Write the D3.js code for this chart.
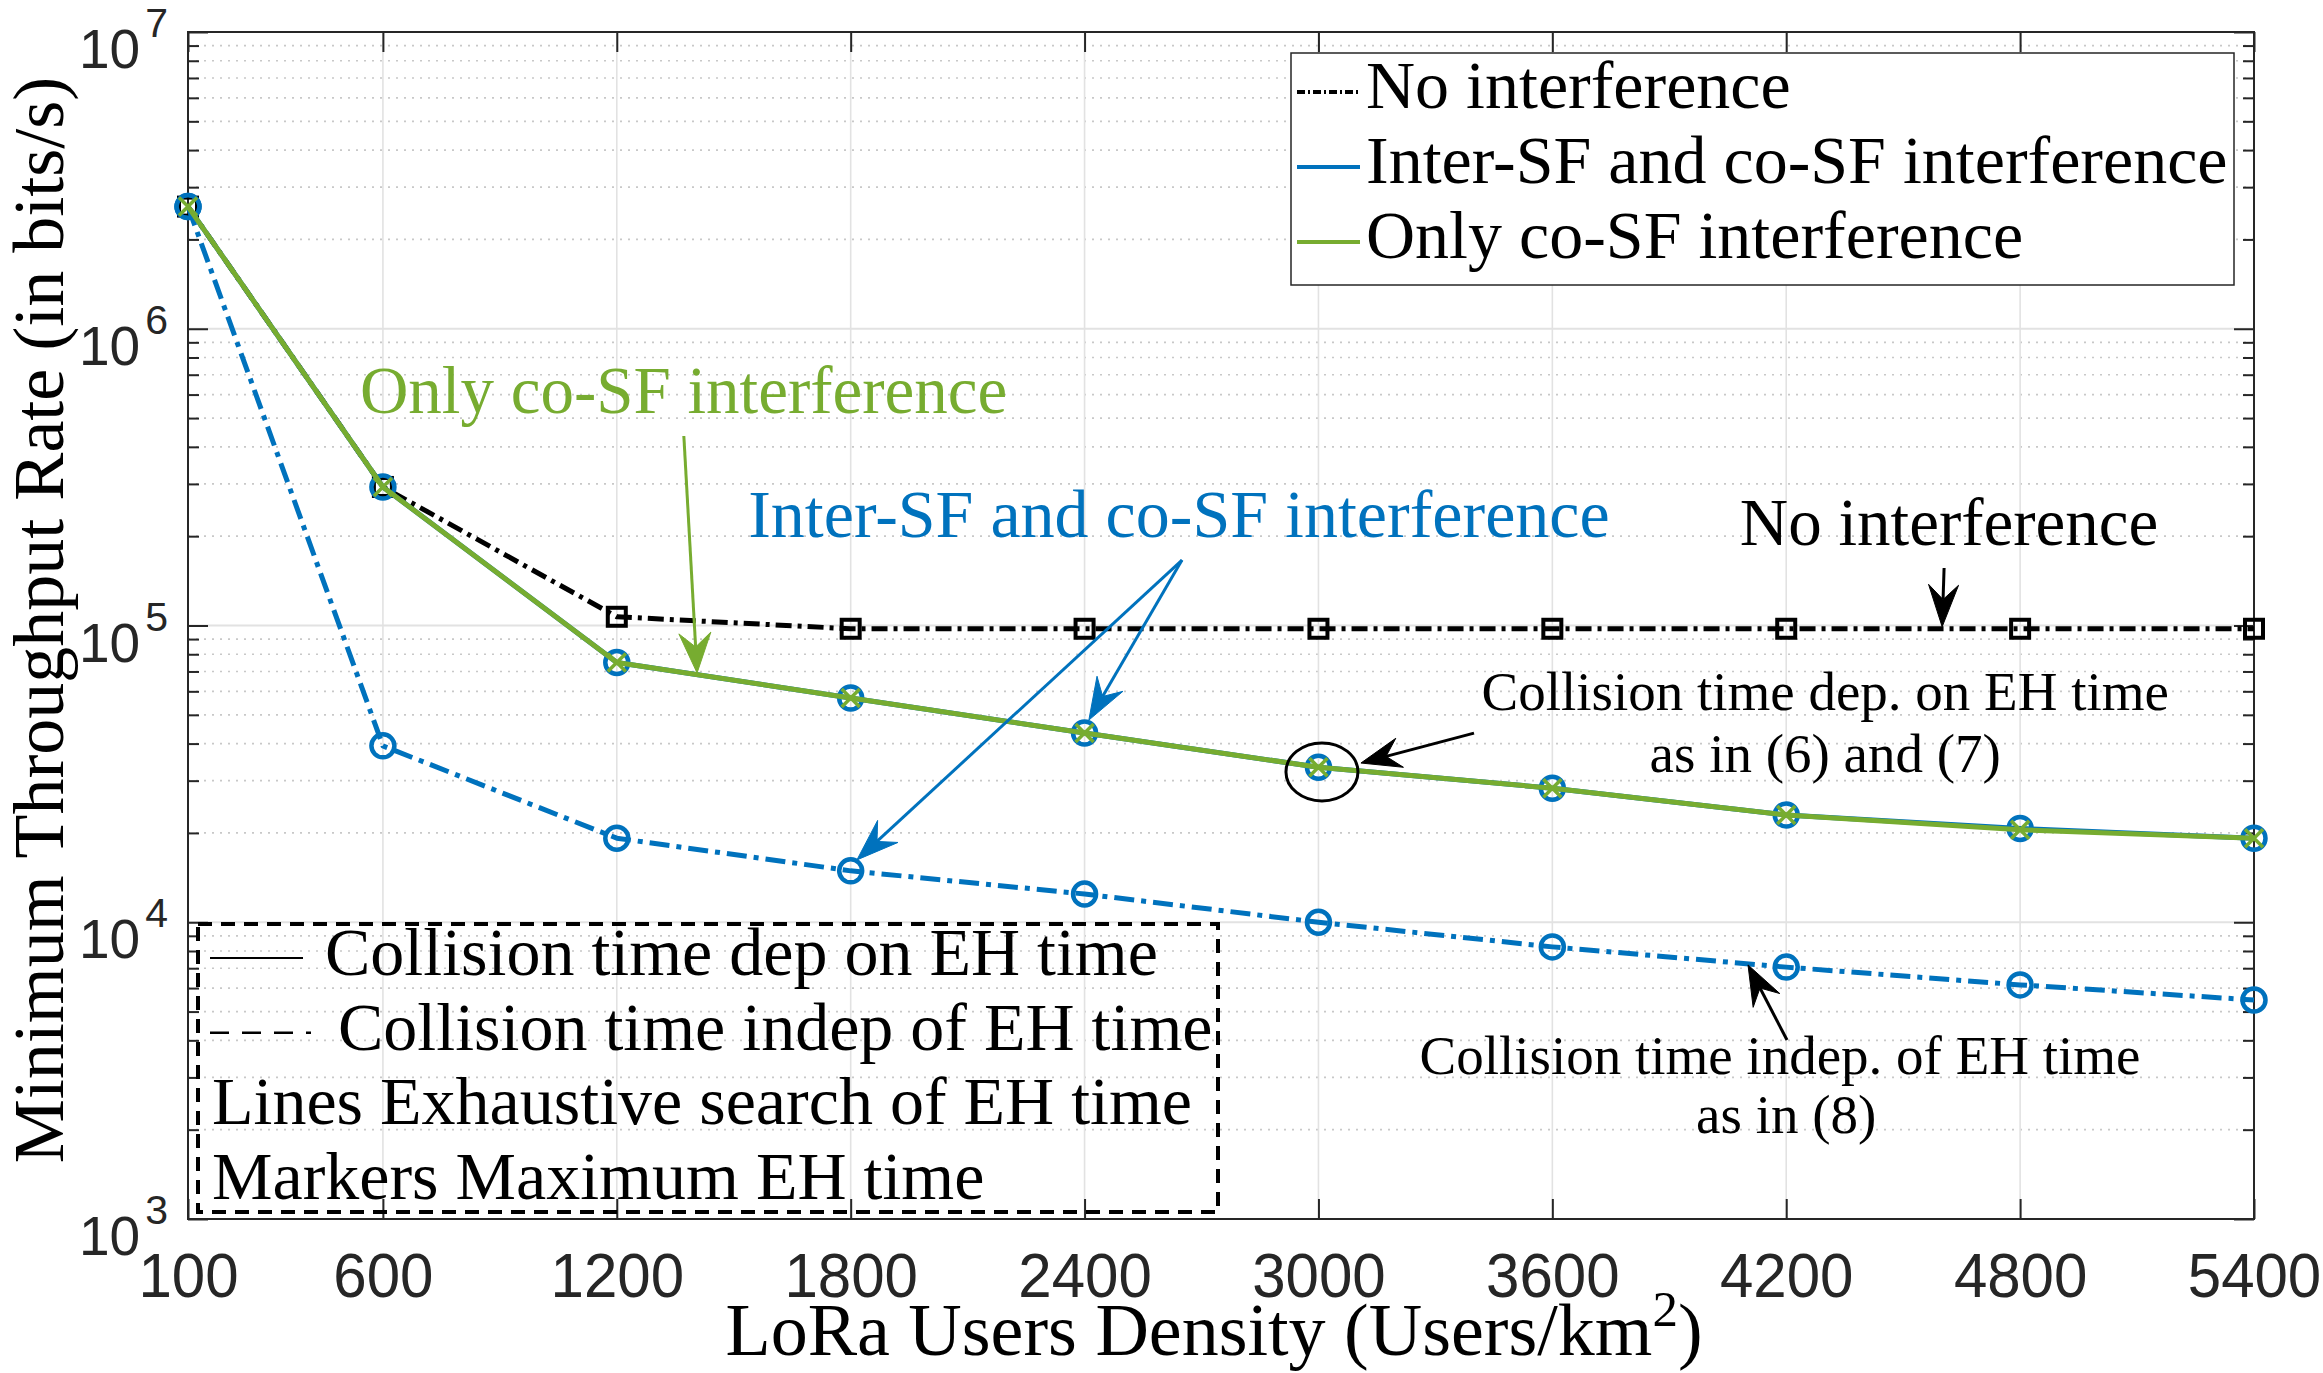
<!DOCTYPE html>
<html>
<head>
<meta charset="utf-8">
<script src="https://cdn.jsdelivr.net/npm/d3@7"></script>
<style>
  html, body { margin: 0; padding: 0; background: #fff; }
  svg { display: block; }
</style>
</head>
<body>
<svg id="chart" width="2323" height="1373"></svg>
<script>
// ---------------- DATA ----------------
const density = [100, 600, 1200, 1800, 2400, 3000, 3600, 4200, 4800, 5400];
const xTickValues = [100, 600, 1200, 1800, 2400, 3000, 3600, 4200, 4800, 5400];
const yDecades = [1e3, 1e4, 1e5, 1e6, 1e7];
const yDecadeExponents = ["3", "4", "5", "6", "7"];

// No interference (dash-dot black, squares)
const noInterference = [2.58e6, 2.93e5, 1.07e5, 9.75e4, 9.75e4, 9.75e4, 9.75e4, 9.75e4, 9.75e4, 9.75e4];
// Inter-SF and co-SF interference, collision time dep. on EH time (solid blue, circles)
const interDep = [2.58e6, 2.93e5, 7.5e4, 5.7e4, 4.34e4, 3.33e4, 2.83e4, 2.30e4, 2.07e4, 1.92e4];
// Only co-SF interference, collision time dep. on EH time (solid green, x)
const coSFDep = [2.58e6, 2.93e5, 7.5e4, 5.7e4, 4.34e4, 3.33e4, 2.83e4, 2.30e4, 2.05e4, 1.92e4];
// Inter-SF and co-SF interference, collision time indep. of EH time (dash-dot blue, circles)
const interIndep = [2.58e6, 3.93e4, 1.92e4, 1.49e4, 1.245e4, 1.0e4, 8.26e3, 7.06e3, 6.15e3, 5.47e3];

const legendMainLabels = ["No interference", "Inter-SF and co-SF interference", "Only co-SF interference"];
const legendStyleLabels = ["Collision time dep on EH time", "Collision time indep of EH time",
                           "Lines Exhaustive search of EH time", "Markers Maximum EH time"];

// ---------------- LAYOUT ----------------
const W = 2323, H = 1373;
const L = 188, R = 2254, T = 32, B = 1219;
const blue = "#0072BD", green = "#77AC30", axisCol = "#262626";
const serif = "'Liberation Serif', 'Times New Roman', serif";
const sans = "'Liberation Sans', Arial, Helvetica, sans-serif";

const svg = d3.select("#chart");
svg.append("rect").attr("width", W).attr("height", H).attr("fill", "#fff");

const x = d3.scaleLinear().domain([100, 5400]).range([L, R]);
const y = d3.scaleLog().domain([1e3, 1e7]).range([B, T]);

const minorVals = [];
for (let e = 3; e < 7; e++) for (let k = 2; k <= 9; k++) minorVals.push(k * Math.pow(10, e));

// ---------------- GRID ----------------
const grid = svg.append("g");
grid.selectAll(".ymin").data(minorVals).enter().append("line")
  .attr("x1", L).attr("x2", R).attr("y1", d => y(d)).attr("y2", d => y(d))
  .attr("stroke", "#c8c8c8").attr("stroke-width", 1.6).attr("stroke-dasharray", "2,6");
grid.selectAll(".ymaj").data(yDecades.slice(1, 4)).enter().append("line")
  .attr("x1", L).attr("x2", R).attr("y1", d => y(d)).attr("y2", d => y(d))
  .attr("stroke", "#e2e2e2").attr("stroke-width", 2);
grid.selectAll(".xg").data(xTickValues.slice(1, -1)).enter().append("line")
  .attr("x1", d => x(d)).attr("x2", d => x(d)).attr("y1", T).attr("y2", B)
  .attr("stroke", "#e2e2e2").attr("stroke-width", 1.6);

// ---------------- AXES ----------------
function styleAxis(g) {
  g.select(".domain").remove();
  g.selectAll(".tick line").attr("stroke", axisCol).attr("stroke-width", 2);
}
const xAxisG = svg.append("g").attr("transform", `translate(0,${B})`)
  .call(d3.axisBottom(x).tickValues(xTickValues).tickSizeInner(-20).tickSizeOuter(0).tickFormat(""))
  .call(styleAxis);
// x tick labels (slightly tall Helvetica look)
xAxisG.selectAll(".tick").append("text")
  .attr("transform", "translate(0,78) scale(1,1.06)")
  .attr("text-anchor", "middle").attr("font-family", sans).attr("font-size", 60).attr("fill", axisCol)
  .text(d => d3.format("d")(d));

svg.append("g").attr("transform", `translate(0,${T})`)
  .call(d3.axisTop(x).tickValues(xTickValues).tickSizeInner(-20).tickSizeOuter(0).tickFormat(""))
  .call(styleAxis);
svg.append("g").attr("transform", `translate(${L},0)`)
  .call(d3.axisLeft(y).tickValues(yDecades).tickSizeInner(-20).tickSizeOuter(0).tickFormat(""))
  .call(styleAxis);
svg.append("g").attr("transform", `translate(${L},0)`)
  .call(d3.axisLeft(y).tickValues(minorVals).tickSizeInner(-11).tickSizeOuter(0).tickFormat(""))
  .call(styleAxis);
svg.append("g").attr("transform", `translate(${R},0)`)
  .call(d3.axisRight(y).tickValues(yDecades).tickSizeInner(-20).tickSizeOuter(0).tickFormat(""))
  .call(styleAxis);
svg.append("g").attr("transform", `translate(${R},0)`)
  .call(d3.axisRight(y).tickValues(minorVals).tickSizeInner(-11).tickSizeOuter(0).tickFormat(""))
  .call(styleAxis);

// y tick labels 10^n
const ylab = svg.append("g");
yDecades.forEach((d, i) => {
  const t = ylab.append("text").attr("x", 168).attr("y", y(d) + 36)
    .attr("text-anchor", "end").attr("font-family", sans).attr("font-size", 55).attr("fill", axisCol);
  t.append("tspan").text("10");
  t.append("tspan").attr("dx", 5).attr("dy", -31).attr("font-size", 41).text(yDecadeExponents[i]);
});

// frame
svg.append("rect").attr("x", L).attr("y", T).attr("width", R - L).attr("height", B - T)
  .attr("fill", "none").attr("stroke", axisCol).attr("stroke-width", 2);

// axis titles
const xl = svg.append("text").attr("x", 1214).attr("y", 1355).attr("text-anchor", "middle")
  .attr("font-family", serif).attr("font-size", 74).attr("fill", "#000");
xl.append("tspan").text("LoRa Users Density (Users/km");
xl.append("tspan").attr("dy", -29).attr("font-size", 51).text("2");
xl.append("tspan").attr("dy", 29).text(")");

svg.append("text").attr("transform", "translate(63,620) rotate(-90)").attr("text-anchor", "middle")
  .attr("font-family", serif).attr("font-size", 72).attr("fill", "#000")
  .text("Minimum Throughput Rate (in bits/s)");

// ---------------- SERIES ----------------
const plot = svg.append("g");
const line = d3.line().x((d, i) => x(density[i])).y(d => y(d));

function drawSeries(vals, color, width, dash) {
  plot.append("path").attr("d", line(vals)).attr("fill", "none").attr("stroke", color)
    .attr("stroke-width", width).attr("stroke-dasharray", dash || null)
    .attr("stroke-linejoin", "round");
}
function circles(vals, color) {
  plot.append("g").selectAll("circle").data(vals).enter().append("circle")
    .attr("cx", (d, i) => x(density[i])).attr("cy", d => y(d)).attr("r", 11.5)
    .attr("fill", "none").attr("stroke", color).attr("stroke-width", 4.5);
}
function squares(vals, color) {
  const s = 18;
  plot.append("g").selectAll("rect").data(vals).enter().append("rect")
    .attr("x", (d, i) => x(density[i]) - s / 2).attr("y", d => y(d) - s / 2)
    .attr("width", s).attr("height", s)
    .attr("fill", "none").attr("stroke", color).attr("stroke-width", 4);
}
function crosses(vals, color) {
  const h = 9;
  plot.append("g").selectAll("path").data(vals).enter().append("path")
    .attr("d", (d, i) => {
      const cx = x(density[i]), cy = y(d);
      return `M${cx - h},${cy - h}L${cx + h},${cy + h}M${cx - h},${cy + h}L${cx + h},${cy - h}`;
    })
    .attr("fill", "none").attr("stroke", color).attr("stroke-width", 3.5);
}

drawSeries(noInterference, "#000", 5, "16,6,4,6");
squares(noInterference, "#000");
drawSeries(interIndep, blue, 5, "20,7,5,7");
circles(interIndep, blue);
drawSeries(interDep, blue, 5);
circles(interDep, blue);
drawSeries(coSFDep, green, 5);
crosses(coSFDep, green);

// ---------------- ANNOTATIONS (data coordinates) ----------------
const ann = svg.append("g");
function arrow(x0, y0, x1, y1, color, headL, headW) {
  const px0 = x(x0), py0 = y(y0), px1 = x(x1), py1 = y(y1);
  const dx = px1 - px0, dy = py1 - py0, len = Math.hypot(dx, dy);
  const ux = dx / len, uy = dy / len, nx = -uy, ny = ux;
  const bx = px1 - ux * headL, by = py1 - uy * headL;
  const mx = px1 - ux * headL * 0.65, my = py1 - uy * headL * 0.65;
  ann.append("line").attr("x1", px0).attr("y1", py0).attr("x2", mx).attr("y2", my)
    .attr("stroke", color).attr("stroke-width", 3);
  ann.append("path")
    .attr("d", `M${px1},${py1}L${bx + nx * headW / 2},${by + ny * headW / 2}L${mx},${my}L${bx - nx * headW / 2},${by - ny * headW / 2}Z`)
    .attr("fill", color).attr("stroke", color).attr("stroke-width", 1);
}
function label(xd, yd, txt, color, size, anchor) {
  ann.append("text").attr("x", x(xd)).attr("y", y(yd)).attr("text-anchor", anchor || "start")
    .attr("font-family", serif).attr("font-size", size).attr("fill", color).text(txt);
}

label(541, 5.2e5, "Only co-SF interference", green, 67);
arrow(1372, 4.35e5, 1406, 6.92e4, green, 40, 32);

label(1537, 1.987e5, "Inter-SF and co-SF interference", blue, 68);
arrow(2650, 1.662e5, 1816, 1.622e4, blue, 42, 30);
arrow(2650, 1.662e5, 2411, 4.80e4, blue, 42, 30);

label(4081, 1.867e5, "No interference", "#000", 67);
arrow(4605, 1.563e5, 4600, 9.9e4, "#000", 42, 30);

label(4300, 5.19e4, "Collision time dep. on EH time", "#000", 55, "middle");
label(4300, 3.21e4, "as in (6) and (7)", "#000", 55, "middle");
arrow(3399, 4.34e4, 3109, 3.44e4, "#000", 40, 30);
ann.append("ellipse").attr("cx", x(3009)).attr("cy", y(3.21e4)).attr("rx", 36).attr("ry", 29)
  .attr("fill", "none").attr("stroke", "#000").attr("stroke-width", 3);

label(4184, 3.08e3, "Collision time indep. of EH time", "#000", 55, "middle");
label(4200, 1.95e3, "as in (8)", "#000", 55, "middle");
arrow(4202, 4.01e3, 4102, 7.18e3, "#000", 40, 30);

// ---------------- LEGEND 1 ----------------
const lg = svg.append("g");
lg.append("rect").attr("x", 1291).attr("y", 53).attr("width", 943).attr("height", 232)
  .attr("fill", "#fff").attr("stroke", axisCol).attr("stroke-width", 1.5);
const lgStyles = [{c: "#000", dash: "8,3,2,3"}, {c: blue, dash: null}, {c: green, dash: null}];
legendMainLabels.forEach((t, i) => {
  const by = 108 + i * 75;
  lg.append("line").attr("x1", 1297).attr("x2", 1360).attr("y1", by - 16).attr("y2", by - 16)
    .attr("stroke", lgStyles[i].c).attr("stroke-width", 4).attr("stroke-dasharray", lgStyles[i].dash);
  lg.append("text").attr("x", 1366).attr("y", by).attr("font-family", serif).attr("font-size", 68)
    .attr("fill", "#000").text(t);
});

// ---------------- LEGEND 2 ----------------
const lg2 = svg.append("g");
lg2.append("rect").attr("x", 198).attr("y", 924).attr("width", 1020).attr("height", 288)
  .attr("fill", "none").attr("stroke", "#000").attr("stroke-width", 4).attr("stroke-dasharray", "14,9");
const lg2X = [325, 338, 212, 212];
legendStyleLabels.forEach((t, i) => {
  const by = 975 + i * 74.7;
  if (i === 0) lg2.append("line").attr("x1", 210).attr("x2", 303).attr("y1", by - 17).attr("y2", by - 17)
    .attr("stroke", "#000").attr("stroke-width", 2);
  if (i === 1) lg2.append("line").attr("x1", 210).attr("x2", 311).attr("y1", by - 17).attr("y2", by - 17)
    .attr("stroke", "#000").attr("stroke-width", 2.5).attr("stroke-dasharray", "19,13");
  lg2.append("text").attr("x", lg2X[i]).attr("y", by).attr("font-family", serif).attr("font-size", 68)
    .attr("fill", "#000").text(t);
});
</script>
</body>
</html>
